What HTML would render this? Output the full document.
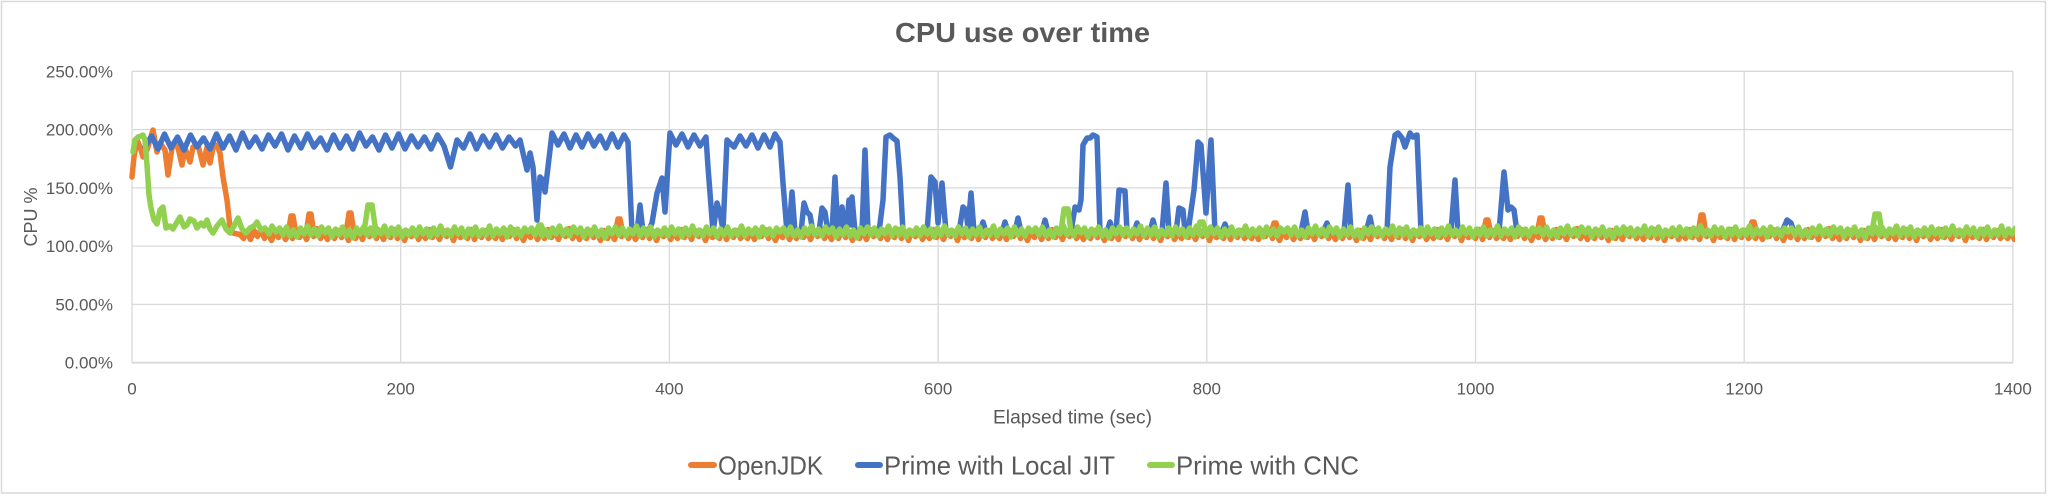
<!DOCTYPE html>
<html>
<head>
<meta charset="utf-8">
<style>
html,body{margin:0;padding:0;background:#fff;}
svg{display:block;}
text{font-family:"Liberation Sans",sans-serif;fill:#595959;}
</style>
</head>
<body>
<svg width="2048" height="496" viewBox="0 0 2048 496" xmlns="http://www.w3.org/2000/svg">
<defs>
<path id="nz" d="M0,0L3.5,4 7,-3 10.5,5 14,-4 17.5,2 21,-5 24.5,4 28,-2 31.5,6 35,-3 38.5,3 42,-4 45.5,5 49,-1 52.5,4 56,-5 59.5,3 63,-3 66.5,5 70,-4 73.5,2 77,-6 80.5,4 84,-2 87.5,5 91,-3 94.5,4 98,-4 101.5,3 105,-2 108.5,6 112,-4 115.5,4 119,-3 122.5,5 126,-5 129.5,2 133,-3 136.5,4 140,-4 143.5,5 147,-2 150.5,3 154,-5 157.5,4 161,-3 164.5,6 168,-3 171.5,2 175,-4 178.5,5 182,-2 185.5,4 189,-5 192.5,3 196,-3 199.5,5 203,-4 206.5,2 210,-3 213.5,6 217,-4 220.5,3 224,-2 227.5,4 231,-5 234.5,5 238,-3 241.5,3 245,-4 248.5,4 252,0"/>
<clipPath id="c"><rect x="120" y="50" width="1895" height="320"/></clipPath>
</defs>
<rect x="0" y="0" width="2048" height="496" fill="#fff"/>
<rect x="1.5" y="1.5" width="2044" height="491.5" fill="none" stroke="#D9D9D9" stroke-width="1.5"/>

<!-- gridlines -->
<g stroke="#D9D9D9" stroke-width="1.3" fill="none">
<line x1="132" y1="71.3" x2="2013" y2="71.3"/>
<line x1="132" y1="129.6" x2="2013" y2="129.6"/>
<line x1="132" y1="187.9" x2="2013" y2="187.9"/>
<line x1="132" y1="246.1" x2="2013" y2="246.1"/>
<line x1="132" y1="304.4" x2="2013" y2="304.4"/>
<line x1="132" y1="362.7" x2="2013" y2="362.7" stroke-width="1.8"/>
<line x1="132" y1="71.3" x2="132" y2="362.7"/>
<line x1="400.7" y1="71.3" x2="400.7" y2="362.7"/>
<line x1="669.4" y1="71.3" x2="669.4" y2="362.7"/>
<line x1="938.1" y1="71.3" x2="938.1" y2="362.7"/>
<line x1="1206.8" y1="71.3" x2="1206.8" y2="362.7"/>
<line x1="1475.5" y1="71.3" x2="1475.5" y2="362.7"/>
<line x1="1744.2" y1="71.3" x2="1744.2" y2="362.7"/>
<line x1="2012.9" y1="71.3" x2="2012.9" y2="362.7"/>
</g>

<!-- title -->
<text x="895" y="42" font-size="28" font-weight="bold" textLength="255" lengthAdjust="spacingAndGlyphs">CPU use over time</text>

<!-- y labels -->
<g font-size="17" text-anchor="end">
<text x="113" y="77.3">250.00%</text>
<text x="113" y="135.6">200.00%</text>
<text x="113" y="193.9">150.00%</text>
<text x="113" y="252.1">100.00%</text>
<text x="113" y="310.4">50.00%</text>
<text x="113" y="368.7">0.00%</text>
</g>
<!-- x labels -->
<g font-size="17" text-anchor="middle">
<text x="132" y="394.3">0</text>
<text x="400.7" y="394.3">200</text>
<text x="669.4" y="394.3">400</text>
<text x="938.1" y="394.3">600</text>
<text x="1206.8" y="394.3">800</text>
<text x="1475.5" y="394.3">1000</text>
<text x="1744.2" y="394.3">1200</text>
<text x="2012.9" y="394.3">1400</text>
</g>
<text transform="translate(37,217) rotate(-90)" font-size="18" text-anchor="middle">CPU %</text>
<text x="993" y="423.3" font-size="19" textLength="159" lengthAdjust="spacingAndGlyphs">Elapsed time (sec)</text>

<!-- series -->
<g clip-path="url(#c)" fill="none" stroke-width="5.5" stroke-linejoin="round" stroke-linecap="round">
<!-- OpenJDK -->
<g stroke="#ED7D31">
<polyline points="132,177 134,157 137,140 140,147 143,157 147,150 150,140 153,130 157,152 160,143 165,150 168,175 172,148 177,143 182,165 185,148 190,162 193,147 198,145 203,165 207,147 210,163 213,148 217,145 220,153 223,177 227,200 230,227 233,233 240,234.5"/>
<use href="#nz" x="240" y="234.5"/>
<use href="#nz" x="492" y="234.5"/>
<use href="#nz" x="744" y="234.5"/>
<use href="#nz" x="996" y="234.5"/>
<use href="#nz" x="1248" y="234.5"/>
<use href="#nz" x="1500" y="234.5"/>
<use href="#nz" x="1752" y="234.5"/>
<use href="#nz" x="2004" y="234.5"/>
<polyline points="288,234 291,216 293,216 296,234"/>
<polyline points="306,234 309,214 311,214 314,234"/>
<polyline points="346,234 349,213 351,213 354,234"/>
<polyline points="615,234 618,219 620,219 623,234"/>
<polyline points="1271,234 1274,223 1276,223 1279,234"/>
<polyline points="1483,234 1486,220 1488,220 1491,234"/>
<polyline points="1537,234 1540,218 1542,218 1545,234"/>
<polyline points="1698,234 1701,215 1703,215 1706,234"/>
<polyline points="1749,234 1752,222 1754,222 1757,234"/>
</g>
<!-- Prime with Local JIT -->
<g stroke="#4472C4">
<polyline points="145,147 151.5,136 158,149 164.5,134 171,148 177.5,137 184,150 190.5,135 197,147 203.5,138 210,149 216.5,134 223,148 229.5,136 236,150 242.5,133 249,147 255.5,137 262,149 268.5,135 275,146 281.5,134 288,150 294.5,136 301,148 307.5,134 314,147 320.5,138 327,150 333.5,135 340,148 346.5,136 353,149 359.5,133 366,146 372.5,137 379,150 385.5,135 392,148 398.5,134 405,149 411.5,136 418,147 424.5,137 431,149 437.5,135 444,146 450.5,167 457,140 463.5,148 470,134 476.5,149 483,136 489.5,147 496,135 502.5,148 509,137 515.5,146 520,140 523,153 527,170 530,153 533,167 537,220 540,177 543,180 545,192 548,167 552,133 558,145 564,134 570,148 576,135 582,147 588,134 594,146 600,136 606,148 612,134 618,147 624,135 628,142 632,232"/>
<polyline points="637,232 640,205 643,232"/>
<polyline points="648,232 652,223 657,193 662,178 665,212 670,133 676,145 682,134 688,147 694,135 700,146 706,137 708,167 713,232 717,203 720,213 723,230 727,140 734,147 740,136 746,146 752,135 758,148 764,135 770,147 775,134 780,142 783,183 787,232"/>
<polyline points="789,232 792,192 795,232"/>
<polyline points="801,232 804,203 807,212 810,215 813,232"/>
<polyline points="819,232 822,208 825,212 828,232"/>
<polyline points="832,232 835,177 838,232"/>
<polyline points="839,232 842,207 845,232"/>
<polyline points="846,232 849,200 851,225 852,197 855,232"/>
<polyline points="862,232 865,150 868,232"/>
<polyline points="879,232 883,200 886,137 890,135 893,138 897,141 900,177 903,232"/>
<polyline points="927,232 931,177 935,182 938,223 942,183 946,232"/>
<polyline points="959,232 963,207 966,210 968,228 971,193 974,232"/>
<polyline points="980,232 983,222 986,232"/>
<polyline points="1002,232 1005,222 1008,232"/>
<polyline points="1015,232 1018,218 1021,232"/>
<polyline points="1042,232 1045,220 1048,232"/>
<polyline points="1071,232 1075,207 1079,210 1081,200 1083,145 1087,138 1090,138 1093,135 1097,137 1100,232"/>
<polyline points="1107,232 1110,222 1113,232"/>
<polyline points="1116,232 1119,190 1125,191 1127,232"/>
<polyline points="1134,232 1137,223 1140,232"/>
<polyline points="1150,232 1153,220 1156,232"/>
<polyline points="1162,232 1166,183 1169,232"/>
<polyline points="1176,232 1179,208 1183,210 1185,232"/>
<polyline points="1188,232 1194,190 1196,167 1198,142 1201,145 1206,213 1211,140 1215,232"/>
<polyline points="1222,232 1225,224 1228,232"/>
<polyline points="1301,232 1305,212 1308,232"/>
<polyline points="1323,232 1327,223 1330,232"/>
<polyline points="1344,232 1348,185 1351,232"/>
<polyline points="1366,232 1370,217 1373,232"/>
<polyline points="1387,232 1390,167 1395,135 1398,133 1402,138 1405,147 1410,133 1413,137 1417,135 1421,232"/>
<polyline points="1451,232 1455,180 1458,232"/>
<polyline points="1499,232 1504,172 1508,210 1511,207 1514,210 1517,232"/>
<polyline points="1782,232 1787,220 1791,223 1794,232"/>
</g>
<!-- Prime with CNC -->
<g stroke="#92D050">
<polyline points="133,152 135,140 138,137 141,136 143,135 145,140 147,165 149,195 151,208 154,220 157,224 160,210 163,207 166,228 170,226 173,229 177,222 180,217 184,227 187,225 190,219 194,221 197,228 201,223 204,226 207,220 210,229 213,233 217,226 222,220 226,229 230,233 234,226 238,218 242,229 246,233 250,228 254,226 257,222 261,230 265,228 269,234 272,226 276,232"/>
<use href="#nz" transform="translate(276,232) scale(1,-1)"/>
<use href="#nz" transform="translate(528,232) scale(1,-1)"/>
<use href="#nz" transform="translate(780,232) scale(1,-1)"/>
<use href="#nz" transform="translate(1032,232) scale(1,-1)"/>
<use href="#nz" transform="translate(1284,232) scale(1,-1)"/>
<use href="#nz" transform="translate(1536,232) scale(1,-1)"/>
<use href="#nz" transform="translate(1788,232) scale(1,-1)"/>
<polyline points="364,232 368,205 372,205 376,232"/>
<polyline points="536,232 539,225 541,225 544,232"/>
<polyline points="1061,232 1064,209 1068,209 1071,232"/>
<polyline points="1197,232 1200,222 1203,222 1206,232"/>
<polyline points="1872,232 1875,214 1879,214 1882,232"/>
</g>
</g>

<!-- legend -->
<g stroke-width="6" stroke-linecap="round">
<line x1="691" y1="465" x2="714" y2="465" stroke="#ED7D31"/>
<line x1="858" y1="465" x2="880" y2="465" stroke="#4472C4"/>
<line x1="1150" y1="465" x2="1172" y2="465" stroke="#92D050"/>
</g>
<g font-size="26">
<text x="718" y="474.5" textLength="105" lengthAdjust="spacingAndGlyphs">OpenJDK</text>
<text x="884" y="474.5" textLength="231" lengthAdjust="spacingAndGlyphs">Prime with Local JIT</text>
<text x="1176" y="474.5" textLength="183" lengthAdjust="spacingAndGlyphs">Prime with CNC</text>
</g>
</svg>
</body>
</html>
